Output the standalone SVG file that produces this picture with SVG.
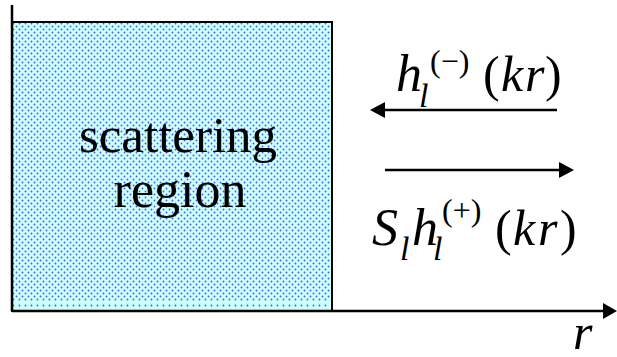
<svg xmlns="http://www.w3.org/2000/svg" width="617" height="357" viewBox="0 0 617 357">
<g id="region">
<rect x="12" y="22" width="320" height="289" fill="#ccffff"/>
<path stroke="#4a5ae0" stroke-width="1.8" stroke-linecap="round" stroke-dasharray="0 6" fill="none" d="M13.5 23.5h317m-317 6h317m-317 6h317m-317 6h317m-317 6h317m-317 6h317m-317 6h317m-317 6h317m-317 6h317m-317 6h317m-317 6h317m-317 6h317m-317 6h317m-317 6h317m-317 6h317m-317 6h317m-317 6h317m-317 6h317m-317 6h317m-317 6h317m-317 6h317m-317 6h317m-317 6h317m-317 6h317m-317 6h317m-317 6h317m-317 6h317m-317 6h317m-317 6h317m-317 6h317m-317 6h317m-317 6h317m-317 6h317m-317 6h317m-317 6h317m-317 6h317m-317 6h317m-317 6h317m-317 6h317m-317 6h317m-317 6h317m-317 6h317m-317 6h317m-317 6h317m-317 6h317m-317 6h317m-317 6h317m-317 6h317"/>
<path stroke="#4a5ae0" stroke-width="1.8" stroke-linecap="round" stroke-dasharray="0 6" fill="none" d="M16.5 26.5h314m-314 6h314m-314 6h314m-314 6h314m-314 6h314m-314 6h314m-314 6h314m-314 6h314m-314 6h314m-314 6h314m-314 6h314m-314 6h314m-314 6h314m-314 6h314m-314 6h314m-314 6h314m-314 6h314m-314 6h314m-314 6h314m-314 6h314m-314 6h314m-314 6h314m-314 6h314m-314 6h314m-314 6h314m-314 6h314m-314 6h314m-314 6h314m-314 6h314m-314 6h314m-314 6h314m-314 6h314m-314 6h314m-314 6h314m-314 6h314m-314 6h314m-314 6h314m-314 6h314m-314 6h314m-314 6h314m-314 6h314m-314 6h314m-314 6h314m-314 6h314m-314 6h314m-314 6h314"/>
<rect x="12" y="22" width="320" height="289" fill="none" stroke="#000" stroke-width="2"/>
<text x="178" y="152" font-size="51" text-anchor="middle" font-family="Liberation Serif">scattering</text>
<text x="180" y="207" font-size="52" text-anchor="middle" font-family="Liberation Serif">region</text>
</g>
<g id="connectors">
<line x1="12" y1="5" x2="12" y2="311" stroke="#000" stroke-width="2.5"/>
<line x1="12" y1="311" x2="604" y2="311" stroke="#000" stroke-width="2.5"/>
<path d="M603 303L617 311L603 319Z" fill="#000"/>
<line x1="557" y1="110" x2="384" y2="110" stroke="#000" stroke-width="2.5"/>
<path d="M385 102L370 110L385 118Z" fill="#000"/>
<line x1="385" y1="170" x2="560" y2="170" stroke="#000" stroke-width="2.5"/>
<path d="M559 162L574 170L559 178Z" fill="#000"/>
</g>
<g id="incoming">
<text x="396" y="91" font-size="52" font-style="italic" font-family="Liberation Serif">h</text>
<text x="419" y="107" font-size="34" font-style="italic" font-family="Liberation Serif">l</text>
<text x="430" y="72" font-size="32" font-family="Liberation Serif">(−)</text>
<text x="483" y="91" font-size="50" font-family="Liberation Serif">(<tspan x="501" font-style="italic">k</tspan><tspan x="525" font-style="italic">r</tspan><tspan x="545">)</tspan></text>
</g>
<g id="outgoing">
<text x="372" y="245" font-size="52" font-style="italic" font-family="Liberation Serif">S</text>
<text x="400" y="260" font-size="34" font-style="italic" font-family="Liberation Serif">l</text>
<text x="412" y="245" font-size="52" font-style="italic" font-family="Liberation Serif">h</text>
<text x="433" y="260" font-size="34" font-style="italic" font-family="Liberation Serif">l</text>
<text x="442" y="221" font-size="32" font-family="Liberation Serif">(+)</text>
<text x="495" y="245" font-size="50" font-family="Liberation Serif">(<tspan x="513" font-style="italic">k</tspan><tspan x="538" font-style="italic">r</tspan><tspan x="560">)</tspan></text>
</g>
<g id="axis-label">
<text x="573" y="349" font-size="50" font-style="italic" font-family="Liberation Serif">r</text>
</g>
</svg>
